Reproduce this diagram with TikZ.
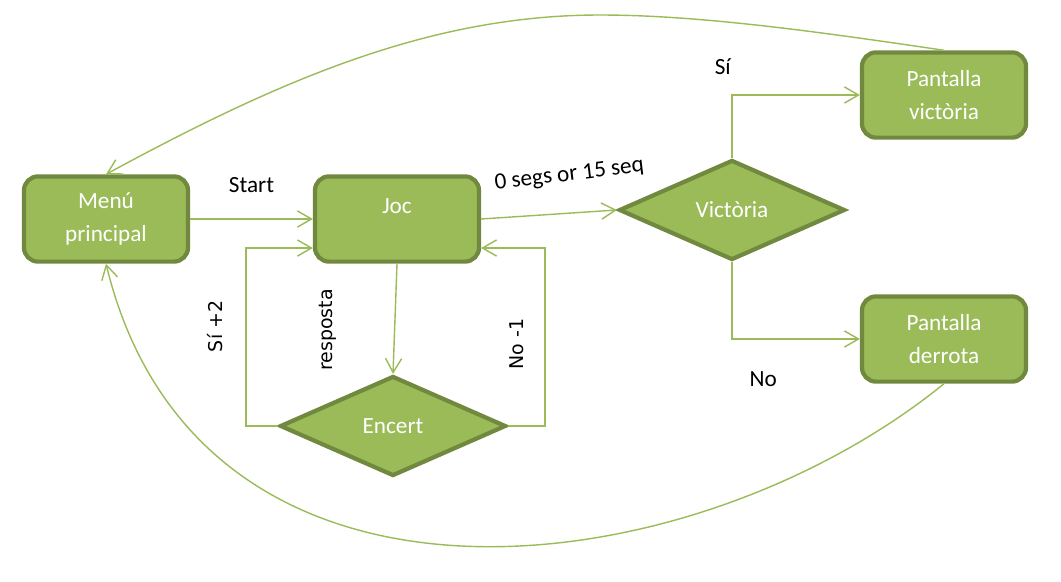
\documentclass[tikz,border=0pt]{standalone}
\usepackage{fontspec}
\setmainfont{Carlito}
\newfontfamily\labelfont{DejaVu Sans}
\usetikzlibrary{arrows.meta,shapes.geometric}
\definecolor{olivefill}{HTML}{9BBB59}
\definecolor{oliveline}{HTML}{71893F}
\tikzset{
	boxnode/.style={draw=oliveline, fill=olivefill, line width=3pt, rounded corners=10pt, minimum width=4.1cm, minimum height=2.13cm, align=center, text=white, font=\fontsize{16.5}{24}\selectfont},
	choice/.style={diamond, draw=oliveline, fill=olivefill, line width=3pt, minimum width=5.65cm, minimum height=2.5cm, inner sep=0pt, text=white, font=\fontsize{16.5}{24}\selectfont},
	link/.style={draw=olivefill, line width=1pt, -{Straight Barb[length=10pt,width=11.5pt]}},
	lbl/.style={font=\fontsize{16.5}{20}\selectfont},
	vlbl/.style={font=\labelfont\fontsize{13.5}{16}\selectfont}
}

\begin{document}
\begin{tikzpicture}[x=0.025cm, y=-0.025cm]
		%%%%% START %%%%%
		\useasboundingbox (0, 0) rectangle (1061, 581);
		
		\node[boxnode] (menu) at (106, 219) {Menú\\principal};
		\node[boxnode, text depth=19pt] (joc) at (397, 219) {Joc};
		\node[choice] (encert) at (393, 426) {Encert};
		\node[choice] (vict) at (732, 210) {Victòria};
		\node[boxnode] (pvic) at (944, 95) {Pantalla\\victòria};
		\node[boxnode] (pder) at (944, 339) {Pantalla\\derrota};
		
		\draw[link] (menu) -- node[midway, lbl, above=15pt] {Start} (joc);
		\draw[link] (joc.east) -- node[pos=0.65, lbl, yshift=0.95cm, rotate=7] {0 segs or 15 seq} (vict.west);
		\draw[link] (joc.south) -- node[midway, vlbl, xshift=-1.68cm, yshift=-0.28cm, rotate=90] {resposta} (encert.north);
		
		\draw[link] (encert.west) -- ++(-32, 0) |- node[pos=0.28, vlbl, xshift=-0.78cm, rotate=90] {Sí +2} ([yshift=-0.725cm]joc.west);
		\draw[link] (encert.east) -- ++(37, 0) |- node[pos=0.23, vlbl, xshift=-0.7cm, rotate=90] {No -1} ([yshift=-0.725cm]joc.east);
		
		\draw[link] (vict.north) |- node[pos=0.5, lbl, xshift=-0.23cm, yshift=0.7cm] {Sí} (pvic.west);
		\draw[link] (vict.south) |- node[pos=0.5, lbl, xshift=0.78cm, yshift=-1cm] {No} (pder.west);
		
		\draw[link] (pvic.north) .. controls (820, 32) and (700, 15) .. (600, 15) .. controls (430, 15) and (280, 80) .. (menu.north);
		\draw[link] (pder.south) .. controls (690, 590) and (200, 650) .. (menu.south);
		
		%%%%% END %%%%%
\end{tikzpicture}
\end{document}
